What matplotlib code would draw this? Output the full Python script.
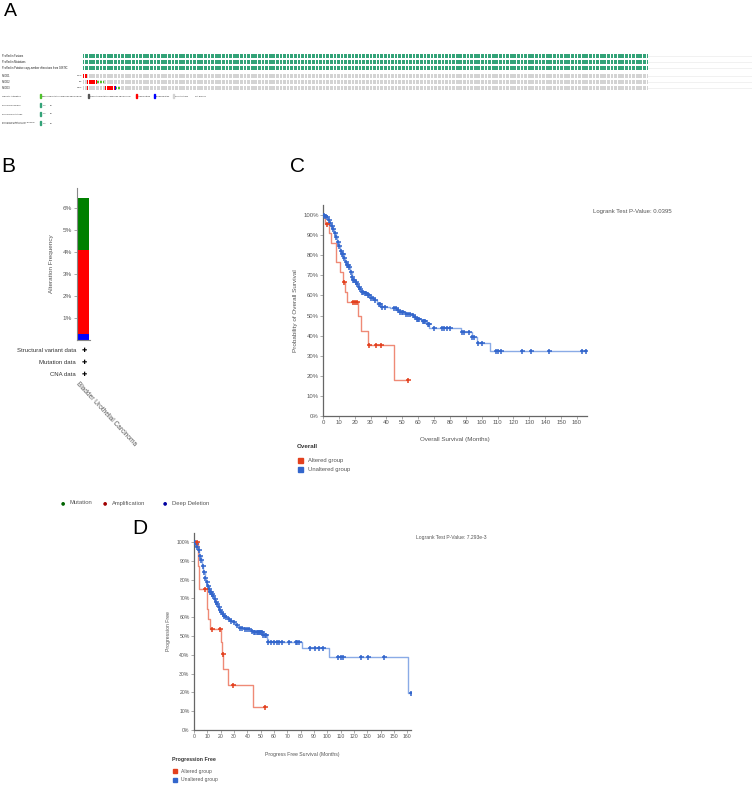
import numpy as np
import matplotlib
matplotlib.use("Agg")
import matplotlib.pyplot as plt

plt.rcParams['font.family'] = ['Liberation Sans', 'DejaVu Sans']

W, H = 753, 785

# ---------------- data ----------------
N_SAMPLES = 408
profile_tracks = ["Profiled in Fusions", "Profiled in Mutations",
                  "Profiled in Putative copy-number alterations from GISTIC"]
genes = ["PLOD1", "PLOD2", "PLOD3"]
gene_pct = ["0.7%", "3%", "2.9%"]
# (gene index, first sample, number of samples, alteration)
alterations = [
    (0, 0, 3, "amp"),
    (1, 3, 7, "amp"), (1, 10, 5, "mut"),
    (2, 3, 1, "amp"), (2, 16, 7, "amp"), (2, 23, 1, "del"), (2, 24, 3, "mut"),
]

# panel B: alteration frequency (%) in bladder urothelial carcinoma
freq_labels = ["Deep Deletion", "Amplification", "Mutation"]
freq_values = [0.27, 3.82, 2.35]

# panel C: overall survival
c_alt_t = [0, 1.5, 3.6, 5.3, 8.4, 10.5, 12.4, 14.1, 15.1, 21.8, 24.2, 28.6, 44.5, 53.4]
c_alt_s = [100, 95.5, 90.9, 85.9, 76.5, 71.5, 66.8, 61.5, 56.6, 49.8, 42.4, 35.3, 17.8, 17.8]
c_alt_cens = [2.3, 13.2, 18.7, 20.0, 21.6, 29.2, 33.2, 36.5, 53.4]

c_unalt_t = [0, 1, 2, 3, 4, 5, 6, 7, 8, 9, 10, 11, 12, 13, 14, 15, 16, 17, 18, 19,
             20, 21, 22, 23, 24, 26, 28, 30, 32, 34, 36, 42, 46, 48, 52, 55, 57, 59,
             62, 65, 67, 87, 94, 97, 105, 165.7]
c_unalt_s = [100, 99.4, 98.8, 97.5, 95.8, 94.6, 93.1, 91.2, 89.0, 86.8, 84.6, 82.0,
             80.6, 78.5, 76.6, 75.3, 74.0, 71.5, 69.3, 67.5, 66.6, 65.8, 64.4, 63.0,
             61.8, 61.0, 60.2, 58.8, 57.6, 55.8, 54.4, 53.8, 52.8, 51.6, 50.7, 50.2,
             49.4, 48.3, 47.3, 45.8, 44.0, 41.6, 39.3, 36.2, 32.5, 32.5]
c_unalt_cens = [0.5, 1.5, 2.5, 3.5, 4.5, 5.5, 6.5, 7.5, 8.5, 9.5, 10.3, 11.5, 12.2,
                12.7, 13.5, 14.5, 15.2, 15.7, 16.5, 17.5, 18.5, 19.2, 19.7, 20.5,
                21.5, 22.5, 23.5, 24.5, 25.2, 26.2, 27, 28.3, 29.2, 30.3, 31.2, 33,
                35, 35.9, 37, 39, 45, 45.8, 47.5, 48.6, 50, 50.6, 52.3, 53.5, 54.8,
                56.9, 58.2, 59, 59.8, 60.5, 62.8, 63.6, 64.5, 65.9, 66.8, 70, 75.2,
                76.2, 77.9, 80, 87.4, 89, 92, 94, 95.3, 97.7, 100.1, 109, 110.5,
                112.1, 125.6, 130.8, 142.6, 163, 165.7]

# panel D: progression free survival
d_alt_t = [0, 2.9, 4.0, 9.4, 10.5, 11.7, 20.0, 21.0, 22.0, 25.3, 44.2, 53.2]
d_alt_s = [100, 87.5, 75, 64.3, 58.9, 53.6, 46.9, 40.2, 32.2, 24.1, 12.1, 12.1]
d_alt_cens = [2.2, 8.1, 13.7, 19.2, 21.4, 29.3, 53.2]

d_unalt_t = [0, 1, 2, 3, 4, 5, 6, 7, 8, 9, 10, 11, 12, 13, 14, 15, 16, 17, 18, 19,
             20, 21, 22, 23, 25, 27, 29, 31, 33, 34, 38, 42, 44, 51.5, 54.5, 55.2,
             81, 101, 160.5, 162.5]
d_unalt_s = [100, 99, 97.5, 95.5, 92.8, 90.5, 87.5, 84, 81, 78.5, 76.5, 75, 73.6,
             72.4, 71.3, 69.8, 68.3, 66.8, 65.3, 64, 62.8, 61.7, 60.8, 60, 59, 58,
             57.2, 56, 55, 54.5, 53.7, 52.8, 52.0, 50.5, 48.5, 46.8, 43.8, 38.8,
             19.5, 19.5]
d_unalt_cens = [0.5, 1.5, 2.5, 3.5, 4.5, 5.5, 6.5, 7.5, 8.5, 9.5, 10.5, 11.5, 12.2,
                12.7, 13.5, 14.5, 15.5, 16.5, 17.5, 18.5, 19.5, 20.5, 21.5, 22.5, 24,
                26, 28, 30, 32, 34.7, 36, 38, 40, 41, 43.5, 45, 46, 47, 48, 49, 49.7,
                50.5, 51, 52, 53, 54.2, 55.7, 58, 60, 62, 64, 66, 71.2, 76.3, 77.5,
                78.8, 87.1, 91, 94, 97, 108, 110, 112, 125.2, 130.5, 142.5, 162.5]

RED, RED_LINE = "#e3401e", "#ef8a76"
BLUE, BLUE_LINE = "#3366cc", "#8aabe6"
GREEN_TRACK = "#33a378"
GRAY_TRACK = "#d3d3d3"
TXT = "#555555"


def fx(x):
    return x / W


def fy(y):
    return 1 - y / H


def px_axes(fig, x0, y0, x1, y1):
    return fig.add_axes([fx(x0), fy(y1), (x1 - x0) / W, (y1 - y0) / H])


fig = plt.figure(figsize=(W / 100, H / 100), dpi=100)

# ---------------- panel A: oncoprint ----------------
fig.text(fx(4), fy(12), "A", fontsize=14, va="center", ha="left")
n_slots = N_SAMPLES * (752 - 83) / (648 - 83)
axA = px_axes(fig, 83, 50, 752, 92)
axA.set_xlim(0, n_slots)
axA.set_ylim(92, 50)
axA.axis("off")
row_y = [56, 62, 68, 76, 82, 88]
row_h = 4.4
cells = [(i + 0.12, 0.76) for i in range(N_SAMPLES)]
for k, y in enumerate(row_y):
    color = GREEN_TRACK if k < 3 else GRAY_TRACK
    axA.broken_barh(cells, (y - row_h / 2, row_h), facecolors=color, linewidth=0)
    axA.plot([N_SAMPLES, n_slots], [y, y], color="#ececec", lw=0.5)
for g, start, n, kind in alterations:
    y = row_y[3 + g]
    segs = [(i + 0.12, 0.76) for i in range(start, start + n)]
    if kind == "amp":
        axA.broken_barh(segs, (y - row_h / 2, row_h), facecolors="#ff0000", linewidth=0)
    elif kind == "del":
        axA.broken_barh(segs, (y - row_h / 2, row_h), facecolors="#0000ff", linewidth=0)
    else:
        axA.broken_barh(segs, (y - row_h / 6, row_h / 3), facecolors="#4fc22b", linewidth=0)

for k, name in enumerate(profile_tracks):
    fig.text(fx(2), fy(row_y[k]), name, fontsize=1.9, va="center", color="#222")
for g, name in enumerate(genes):
    fig.text(fx(2), fy(row_y[3 + g]), name, fontsize=1.9, va="center", color="#222")
    fig.text(fx(82), fy(row_y[3 + g]), gene_pct[g], fontsize=1.7, va="center",
             ha="right", color="#222")

fig.text(fx(2), fy(96), "Genetic Alteration", fontsize=1.7, va="center", color="#222")
leg_items = [(40, "#4fc22b", "Missense Mutation (unknown significance)"),
             (88, "#555555", "Truncating Mutation (unknown significance)"),
             (136, "#ff0000", "Amplification"),
             (154, "#0000ff", "Deep Deletion"),
             (173, GRAY_TRACK, "No alterations"),
             (193, "white", "Not profiled")]
for x, c, lab in leg_items:
    fig.patches.append(plt.Rectangle((fx(x), fy(98)), 1 / W, 4 / H, color=c,
                                     transform=fig.transFigure))
    fig.text(fx(x + 2), fy(96), lab, fontsize=1.5, va="center", color="#222")

for y, lab in [(105, "Profiled in Fusions"), (114, "Profiled in Mutations"),
               (123, "Profiled in Putative copy-number\nalterations from GISTIC")]:
    fig.text(fx(2), fy(y), lab, fontsize=1.6, va="center", color="#222",
             linespacing=1.0)
    fig.patches.append(plt.Rectangle((fx(40), fy(y + 2)), 1.3 / W, 4 / H,
                                     color=GREEN_TRACK, transform=fig.transFigure))
    fig.text(fx(42.5), fy(y), "Yes", fontsize=1.5, va="center", color="#222")
    fig.text(fx(50), fy(y), "No", fontsize=1.5, va="center", color="#222")

# ---------------- panel B: alteration frequency ----------------
fig.text(fx(1), fy(167), "B", fontsize=15, va="center", ha="left")
axB = px_axes(fig, 77, 188, 90, 340)
bottom = 0
for lab, v, c in zip(freq_labels, freq_values, ["#0000ff", "#ff0000", "#008000"]):
    axB.bar(0.5, v, bottom=bottom, width=0.78, color=c, linewidth=0)
    bottom += v
axB.set_xlim(0, 1)
axB.set_ylim(0, 6.9)
axB.set_yticks([1, 2, 3, 4, 5, 6])
axB.set_yticklabels(["%d%%" % t for t in range(1, 7)])
axB.set_xticks([])
for s in ["top", "right"]:
    axB.spines[s].set_visible(False)
for s in ["left", "bottom"]:
    axB.spines[s].set_color("#888888")
    axB.spines[s].set_linewidth(0.8)
axB.tick_params(axis="y", length=2, width=0.5, colors="#888888", labelsize=4.6,
                labelcolor=TXT, pad=1.5)
axB.set_ylabel("Alteration Frequency", fontsize=4.6, color=TXT, labelpad=6)

for y, lab in [(350, "Structural variant data"), (362, "Mutation data"), (374, "CNA data")]:
    fig.text(fx(76), fy(y), lab, fontsize=4.3, ha="right", va="center", color="#333")
    fig.text(fx(84), fy(y), "\u271a", fontsize=4.5, ha="center", va="center",
             color="black", family="DejaVu Sans")
fig.text(fx(80), fy(381), "Bladder Urothelial Carcinoma", fontsize=4.7, rotation=-47,
         rotation_mode="anchor", ha="left", va="top", color=TXT)

for x, c, lab in [(63, "#006400", "Mutation"), (105, "#a00000", "Amplification"),
                  (165, "#0000a0", "Deep Deletion")]:
    fig.text(fx(x), fy(503), "\u25cf", fontsize=3.5, ha="center", va="center",
             color=c, family="DejaVu Sans")
    fig.text(fx(x + 7), fy(503), lab, fontsize=4.2, va="center", color=TXT)


# ---------------- KM helper ----------------
def km(ax, t, s, cens, line_c, mark_c):
    t = np.asarray(t, float)
    s = np.asarray(s, float)
    ax.step(t, s, where="post", color=line_c, lw=1.0, zorder=2)
    cens = np.asarray(cens, float)
    idx = np.searchsorted(t, cens, side="right") - 1
    ax.plot(cens, s[idx], "+", color=mark_c, ms=3.6, mew=1.1, zorder=3)


def style_km(ax, xmax, ymax, lab_size):
    ax.set_xlim(0, xmax)
    ax.set_ylim(0, ymax)
    ax.set_xticks(np.arange(0, 161, 10))
    ax.set_yticks(np.arange(0, 101, 10))
    ax.set_yticklabels(["%d%%" % v for v in range(0, 101, 10)])
    for sp in ["top", "right"]:
        ax.spines[sp].set_visible(False)
    for sp in ["left", "bottom"]:
        ax.spines[sp].set_color("#666666")
        ax.spines[sp].set_linewidth(0.9)
    ax.tick_params(length=2, width=0.5, colors="#888888", labelsize=lab_size,
                   labelcolor=TXT, pad=1.2)


# ---------------- panel C ----------------
fig.text(fx(290), fy(167), "C", fontsize=15, va="center", ha="left")
axC = px_axes(fig, 323, 205, 587, 416)
km(axC, c_unalt_t, c_unalt_s, c_unalt_cens, BLUE_LINE, BLUE)
km(axC, c_alt_t, c_alt_s, c_alt_cens, RED_LINE, RED)
style_km(axC, 166.3, 105, 4.3)
axC.set_xlabel("Overall Survival (Months)", fontsize=4.5, color=TXT, labelpad=8)
axC.set_ylabel("Probability of Overall Survival", fontsize=4.6, color=TXT, labelpad=4)
fig.text(fx(593), fy(211), "Logrank Test P-Value: 0.0395", fontsize=4.3,
         va="center", color=TXT)
fig.text(fx(297), fy(447), "Overall", fontsize=4.5, fontweight="bold", va="center",
         color="#333")
for y, c, lab in [(460.5, RED, "Altered group"), (469.5, BLUE, "Unaltered group")]:
    fig.patches.append(plt.Rectangle((fx(298), fy(y + 2.5)), 5 / W, 5 / H, color=c,
                                     transform=fig.transFigure))
    fig.text(fx(308), fy(y), lab, fontsize=4.2, va="center", color=TXT)

# ---------------- panel D ----------------
fig.text(fx(132), fy(528), "D", fontsize=15, va="center", ha="left")
axD = px_axes(fig, 194, 533, 411, 730)
km(axD, d_unalt_t, d_unalt_s, d_unalt_cens, BLUE_LINE, BLUE)
km(axD, d_alt_t, d_alt_s, d_alt_cens, RED_LINE, RED)
style_km(axD, 162.8, 104.8, 3.7)
axD.set_xlabel("Progress Free Survival (Months)", fontsize=3.7, color=TXT, labelpad=9)
axD.set_ylabel("Progression Free", fontsize=3.7, color=TXT, labelpad=4)
fig.text(fx(416), fy(538), "Logrank Test P-Value: 7.293e-3", fontsize=3.6,
         va="center", color=TXT)
fig.text(fx(172), fy(759), "Progression Free", fontsize=3.8, fontweight="bold",
         va="center", color="#333")
for y, c, lab in [(771, RED, "Altered group"), (780, BLUE, "Unaltered group")]:
    fig.patches.append(plt.Rectangle((fx(172.5), fy(y + 2.2)), 4.4 / W, 4.4 / H, color=c,
                                     transform=fig.transFigure))
    fig.text(fx(181), fy(y), lab, fontsize=3.6, va="center", color=TXT)

fig.savefig("out.png", dpi=100)
